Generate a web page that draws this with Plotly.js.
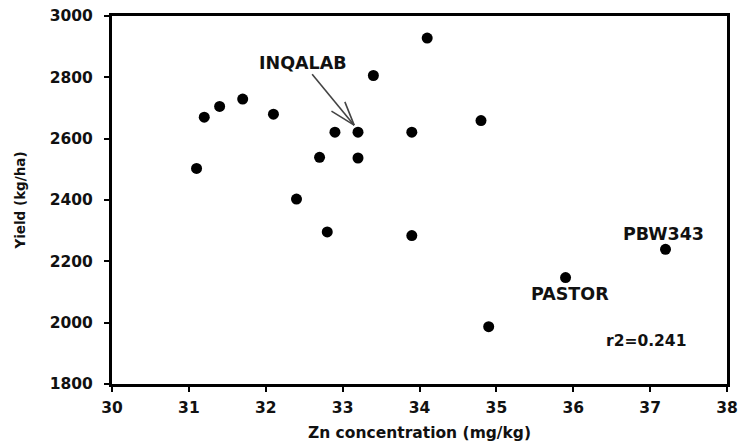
<!DOCTYPE html>
<html>
<head>
<meta charset="utf-8">
<script src="https://cdn.plot.ly/plotly-3.0.1.min.js"></script>
<style>html,body{margin:0;padding:0;background:#fff;}#chart{width:741px;height:445px;}</style>
</head>
<body>
<div id="chart"></div>
<script>
var znConcentration = [31.1, 31.2, 31.4, 31.7, 32.1, 32.4, 32.7, 32.8, 32.9, 33.2, 33.2, 33.4, 33.9, 33.9, 34.1, 34.8, 34.9, 35.9, 37.2];
var yieldKgHa     = [2503, 2670, 2705, 2729, 2680, 2403, 2539, 2296, 2621, 2621, 2537, 2806, 2621, 2284, 2928, 2659, 1987, 2147, 2239];
var labelTexts = ['INQALAB', 'PBW343', 'PASTOR', 'r2=0.241'];
var labelX = [32.49, 37.17, 35.96, 36.95];
var labelY = [2847, 2288, 2095, 1939];
var xTicks = [30, 31, 32, 33, 34, 35, 36, 37, 38];
var yTicks = [1800, 2000, 2200, 2400, 2600, 2800, 3000];
var arrowTip = [33.15, 2644];

var F = 'DejaVu Sans, Liberation Sans, Arial, sans-serif';
var trace = {
  x: znConcentration, y: yieldKgHa, type: 'scatter', mode: 'markers',
  marker: {color: '#000', size: 11}, hoverinfo: 'x+y', showlegend: false
};
var annotations = labelTexts.map(function(t, i){
  return {x: labelX[i], y: labelY[i], xref: 'x', yref: 'y', text: '<b>' + t + '</b>',
    showarrow: false, font: {family: F, size: i === 3 ? 15.5 : 17.5, color: '#111'},
    xanchor: 'center', yanchor: 'middle'};
});
function seg(dx0, dy0, dx1, dy1){
  return {type: 'line', xref: 'x', yref: 'y', xsizemode: 'pixel', ysizemode: 'pixel',
    xanchor: arrowTip[0], yanchor: arrowTip[1], x0: dx0, y0: dy0, x1: dx1, y1: dy1,
    line: {color: '#444', width: 1.6}};
}
var shapes = [seg(-42, 51, 0, 0), seg(-22.7, 14, 0, 0), seg(-9.3, 23.3, 0, 0)];

var layout = {
  width: 741, height: 445,
  margin: {l: 112, r: 14, t: 16, b: 61, pad: 0},
  paper_bgcolor: '#fff', plot_bgcolor: '#fff',
  font: {family: F, color: '#111'},
  xaxis: {
    range: [30, 38], tickvals: xTicks, ticktext: xTicks.map(String),
    showgrid: false, zeroline: false, showline: true, linecolor: '#000', linewidth: 3, mirror: true,
    ticks: 'outside', ticklen: 5, tickwidth: 2, tickcolor: '#000', ticklabelstandoff: 2,
    tickfont: {family: F, size: 15.5, color: '#111', weight: 'bold'},
    title: {text: '<b>Zn concentration (mg/kg)</b>', font: {family: F, size: 15.5, color: '#111'}, standoff: 12}
  },
  yaxis: {
    range: [1800, 3000], tickvals: yTicks, ticktext: yTicks.map(String),
    showgrid: false, zeroline: false, showline: true, linecolor: '#000', linewidth: 3, mirror: true,
    ticks: 'outside', ticklen: 5, tickwidth: 2, tickcolor: '#000', ticklabelstandoff: 8,
    tickfont: {family: F, size: 15.5, color: '#111', weight: 'bold'},
    title: {text: '<b>Yield (kg/ha)</b>', font: {family: F, size: 13.5, color: '#111'}, standoff: 22}
  },
  annotations: annotations,
  shapes: shapes
};
Plotly.newPlot('chart', [trace], layout, {displayModeBar: false, staticPlot: true});
</script>
</body>
</html>
